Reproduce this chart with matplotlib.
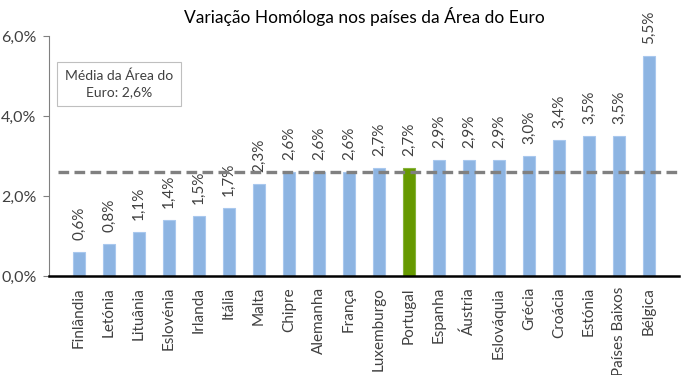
import matplotlib
matplotlib.use("Agg")
import matplotlib.pyplot as plt

countries = ["Finlândia", "Letónia", "Lituânia", "Eslovénia", "Irlanda", "Itália",
             "Malta", "Chipre", "Alemanha", "França", "Luxemburgo", "Portugal",
             "Espanha", "Áustria", "Eslováquia", "Grécia", "Croácia", "Estónia",
             "Países Baixos", "Bélgica"]
values = [0.6, 0.8, 1.1, 1.4, 1.5, 1.7, 2.3, 2.6, 2.6, 2.6, 2.7, 2.7,
          2.9, 2.9, 2.9, 3.0, 3.4, 3.5, 3.5, 5.5]
euro_avg = 2.6
highlight = "Portugal"
yticks = [0, 2, 4, 6]

plt.rcParams['font.family'] = ['Lato', 'DejaVu Sans']

fig = plt.figure(figsize=(6.81, 3.75), dpi=100)
ax = fig.add_axes([49/681, 1-276/375, 630/681, 240/375])

x = list(range(len(countries)))
colors = ["#669900" if c == highlight else "#8db4e2" for c in countries]
edges = ["#86b33a" if c == highlight else "#a9c8ee" for c in countries]
ax.bar(x, values, width=0.42, color=colors, edgecolor=edges, linewidth=0.8, zorder=2)

for xi, v in zip(x, values):
    ax.text(xi, v + 0.3, f"{v:.1f}%".replace(".", ","), rotation=90,
            ha="center", va="bottom", fontsize=11, color="#404040")

ax.plot([-0.7, 20], [euro_avg, euro_avg], linestyle=(0, (3.2, 1.6)), color="#808080",
        linewidth=2.4, zorder=3)

ax.set_xlim(-1, 20)
ax.set_ylim(0, 6)
ax.set_yticks(yticks)
ax.set_yticklabels([f"{t:.1f}%".replace(".", ",") for t in yticks], fontsize=11.5, color="#404040")
ax.set_xticks(x)
ax.set_xticklabels(countries, rotation=90, fontsize=11, color="#404040")
ax.tick_params(axis="x", length=0, pad=8)
ax.tick_params(axis="y", length=4, color="#808080", width=0.8, pad=5)

for s in ["top", "right"]:
    ax.spines[s].set_visible(False)
ax.spines["left"].set_color("#808080")
ax.spines["left"].set_linewidth(0.8)
ax.spines["bottom"].set_color("black")
ax.spines["bottom"].set_linewidth(1.8)
ax.spines["bottom"].set_zorder(4)

fig.text(364/681, 1-17/375, "Variação Homóloga nos países da Área do Euro",
         ha="center", va="center", fontsize=12.5, color="black")

fig.text(119/681, 1-84/375, "Média da Área do\nEuro: 2,6%", ha="center", va="center",
         fontsize=10, color="#404040", linespacing=1.35,
         bbox=dict(boxstyle="square,pad=0.55", facecolor="white", edgecolor="#bfbfbf", linewidth=0.8))

fig.savefig("out.png", dpi=100)
